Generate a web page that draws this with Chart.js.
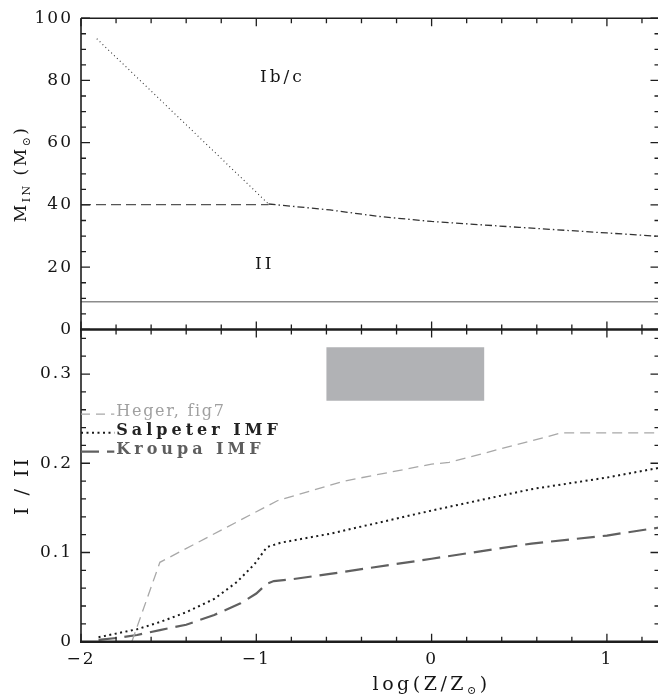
<!DOCTYPE html>
<html><head><meta charset="utf-8">
<script src="https://cdn.jsdelivr.net/npm/chart.js@4.4.0/dist/chart.umd.min.js"></script>
<style>
html,body{margin:0;padding:0;background:#fff;overflow:hidden;}
#wrap{position:absolute;left:0;top:0;width:660px;height:695px;}
</style></head><body>
<div id="wrap"><canvas id="c"></canvas></div>
<script>
// ---------------- data ----------------
const xTickValues = [-2, -1, 0, 1];
const yTopTickValues = [0, 20, 40, 60, 80, 100];
const yBotTickValues = [0, 0.1, 0.2, 0.3];

// top panel: M_IN vs log(Z/Zsun)
const dottedTopX = [-1.91, -0.93];
const dottedTopY = [93.4, 40.3];
const dashedTopX = [-2.0, -0.93];
const dashedTopY = [40.1, 40.1];
const dashDotTopX = [-0.93, -0.58, -0.3, 0.0, 0.5, 1.0, 1.3];
const dashDotTopY = [40.3, 38.4, 36.3, 34.7, 32.8, 31.0, 29.9];
const solidTopX = [-2.0, 1.3];
const solidTopY = [8.9, 8.9];

// bottom panel: I / II ratio
const hegerX = [-1.71, -1.55, -0.88, -0.5, 0.0, 0.1, 0.74, 1.3];
const hegerY = [0.0, 0.089, 0.158, 0.18, 0.199, 0.201, 0.234, 0.234];
const salpeterX = [-1.9, -1.68, -1.55, -1.4, -1.24, -1.11, -1.01, -0.94, -0.86, -0.58, 0.0, 0.57, 1.0, 1.3];
const salpeterY = [0.005, 0.014, 0.022, 0.033, 0.048, 0.067, 0.087, 0.106, 0.111, 0.121, 0.147, 0.171, 0.184, 0.195];
const kroupaX = [-1.9, -1.78, -1.68, -1.55, -1.4, -1.24, -1.09, -1.0, -0.94, -0.9, -0.81, -0.58, 0.0, 0.57, 1.0, 1.3];
const kroupaY = [0.002, 0.0045, 0.0075, 0.013, 0.019, 0.03, 0.043, 0.054, 0.065, 0.068, 0.0696, 0.076, 0.093, 0.11, 0.119, 0.128];
const boxX = [-0.6, -0.6, 0.3, 0.3];
const boxY = [0.27, 0.33, 0.33, 0.27];

const legendLabels = ['Heger, fig7', 'Salpeter IMF', 'Kroupa IMF'];
const legendY = [0.254, 0.233, 0.212];

// ---------------- helpers ----------------
const FONT = '"DejaVu Serif", "Liberation Serif", serif';
const pts = (xs, ys) => xs.map((x, i) => ({x: x, y: ys[i]}));

function drawRich(ctx, parts, cx, cy, angle, spacing) {
  ctx.save();
  ctx.translate(cx, cy);
  ctx.rotate(angle);
  ctx.letterSpacing = spacing + 'px';
  ctx.textBaseline = 'alphabetic';
  ctx.textAlign = 'left';
  let total = 0;
  parts.forEach(p => {
    ctx.font = (p.bold ? 'bold ' : '') + p.size + 'px ' + FONT;
    p.w = ctx.measureText(p.t).width;
    total += p.w;
  });
  let x = -total / 2;
  parts.forEach(p => {
    ctx.font = (p.bold ? 'bold ' : '') + p.size + 'px ' + FONT;
    ctx.fillStyle = p.color || '#151515';
    ctx.fillText(p.t, x, p.dy || 0);
    x += p.w;
  });
  ctx.restore();
}

const framePlugin = {
  id: 'frame',
  beforeDraw(chart) {
    chart.ctx.letterSpacing = '2px';
  },
  afterDraw(chart) {
    const ctx = chart.ctx;
    const sx = chart.scales.x, yT = chart.scales.yTop, yB = chart.scales.yBot;
    const L = chart.chartArea.left, R = chart.chartArea.right;
    const T = yT.top, M = yT.bottom, B = yB.bottom;
    ctx.save();
    ctx.letterSpacing = '0px';
    ctx.strokeStyle = '#1e1e1e';
    ctx.lineCap = 'butt';
    // frame
    ctx.lineWidth = 1.6;
    ctx.beginPath();
    ctx.moveTo(L, T); ctx.lineTo(R, T);
    ctx.moveTo(L, T); ctx.lineTo(L, B);
    ctx.moveTo(R, T); ctx.lineTo(R, B);
    ctx.stroke();
    ctx.lineWidth = 2.6;
    ctx.beginPath();
    ctx.moveTo(L - 1, M); ctx.lineTo(R, M);
    ctx.moveTo(L - 1, B); ctx.lineTo(R, B);
    ctx.stroke();
    // x ticks
    ctx.lineWidth = 1.3;
    ctx.beginPath();
    for (let i = 0; i <= 16; i++) {
      const v = -2 + 0.2 * i;
      const major = Math.abs(v - Math.round(v)) < 1e-6;
      const len = major ? 8 : 5;
      const px = sx.getPixelForValue(v);
      ctx.moveTo(px, T); ctx.lineTo(px, T + len);
      ctx.moveTo(px, M - len); ctx.lineTo(px, M + len);
      ctx.moveTo(px, B); ctx.lineTo(px, B - len);
    }
    // top y ticks
    for (let v = 0; v <= 100; v += 5) {
      const major = v % 20 === 0;
      const len = major ? 9 : 5;
      const py = yT.getPixelForValue(v);
      ctx.moveTo(L, py); ctx.lineTo(L + len, py);
      ctx.moveTo(R, py); ctx.lineTo(R - len, py);
    }
    // bottom y ticks
    for (let i = 0; i <= 17; i++) {
      const v = 0.02 * i;
      const major = i % 5 === 0;
      const len = major ? 9 : 5;
      const py = yB.getPixelForValue(v);
      ctx.moveTo(L, py); ctx.lineTo(L + len, py);
      ctx.moveTo(R, py); ctx.lineTo(R - len, py);
    }
    ctx.stroke();

    // region labels
    ctx.fillStyle = '#151515';
    ctx.textAlign = 'center';
    ctx.textBaseline = 'middle';
    ctx.letterSpacing = '3px';
    ctx.font = '17px ' + FONT;
    ctx.fillText('Ib/c', sx.getPixelForValue(-0.86) + 1.5, yT.getPixelForValue(81));
    ctx.fillText('II', sx.getPixelForValue(-0.96) + 1.5, yT.getPixelForValue(21));

    // legend
    const lx0 = sx.getPixelForValue(-2), lx1 = sx.getPixelForValue(-1.81);
    const styles = [
      {color: '#a8a8a8', dash: [9, 6], w: 1.3, bold: false, tcolor: '#a0a0a0', sp: '1.7px'},
      {color: '#1a1a1a', dash: [2, 3.5], w: 2, bold: true, tcolor: '#222', sp: '4px'},
      {color: '#606060', dash: [18, 8], w: 2.2, bold: true, tcolor: '#5e5e5e', sp: '4px'}
    ];
    legendLabels.forEach((lab, i) => {
      const st = styles[i];
      const py = yB.getPixelForValue(legendY[i]);
      ctx.save();
      ctx.strokeStyle = st.color; ctx.lineWidth = st.w; ctx.setLineDash(st.dash);
      ctx.beginPath(); ctx.moveTo(lx0, py - 1); ctx.lineTo(lx1, py - 1); ctx.stroke();
      ctx.restore();
      ctx.textAlign = 'left';
      ctx.textBaseline = 'alphabetic';
      ctx.fillStyle = st.tcolor;
      ctx.font = (st.bold ? 'bold ' : '') + '16px ' + FONT;
      ctx.letterSpacing = st.sp;
      ctx.fillText(lab, lx1 + 2, py + 1);
    });
    ctx.restore();

    // axis titles
    drawRich(ctx, [
      {t: 'M', size: 17}, {t: 'IN', size: 11, dy: 4}, {t: ' (M', size: 17},
      {t: '\u2299', size: 11, dy: 4}, {t: ')', size: 17}
    ], 25.5, (T + M) / 2, -Math.PI / 2, 2.5);
    drawRich(ctx, [{t: 'I / II', size: 19}], 28, (M + B) / 2, -Math.PI / 2, 3);
    drawRich(ctx, [
      {t: 'log(Z/Z', size: 19}, {t: '\u2299', size: 11, dy: 4}, {t: ')', size: 19}
    ], sx.getPixelForValue(0), 690, 0, 3.5);
  }
};

const tickFont = {family: FONT, size: 17};
const lineDs = (label, data, axis, color, width, dash) => ({
  type: 'line', label: label, data: data, yAxisID: axis,
  borderColor: color, borderWidth: width, borderDash: dash,
  pointRadius: 0, tension: 0, fill: false, borderCapStyle: 'butt'
});

new Chart(document.getElementById('c'), {
  type: 'line',
  data: {
    datasets: [
      lineDs('dotted', pts(dottedTopX, dottedTopY), 'yTop', '#333', 1.1, [1, 3]),
      lineDs('dashed', pts(dashedTopX, dashedTopY), 'yTop', '#555', 1.3, [10, 5]),
      lineDs('dashdot', pts(dashDotTopX, dashDotTopY), 'yTop', '#333', 1.3, [7, 3, 1.5, 3]),
      lineDs('solid', pts(solidTopX, solidTopY), 'yTop', '#8c8c8c', 1.7, []),
      lineDs('Heger, fig7', pts(hegerX, hegerY), 'yBot', '#a8a8a8', 1.3, [10, 6]),
      lineDs('Salpeter IMF', pts(salpeterX, salpeterY), 'yBot', '#1a1a1a', 2, [2, 3.5]),
      lineDs('Kroupa IMF', pts(kroupaX, kroupaY), 'yBot', '#606060', 2.2, [18, 8]),
      {type: 'line', label: 'box', data: pts(boxX, boxY), yAxisID: 'yBot',
       borderWidth: 0, pointRadius: 0, tension: 0, fill: 'shape',
       backgroundColor: '#b1b2b5', borderColor: 'rgba(0,0,0,0)'}
    ]
  },
  options: {
    responsive: true,
    maintainAspectRatio: false,
    devicePixelRatio: 1,
    animation: false,
    layout: {padding: {top: 12.7, right: 0.5, left: 0, bottom: 0}},
    plugins: {legend: {display: false}, tooltip: {enabled: false}},
    scales: {
      x: {
        type: 'linear', min: -2, max: 1.3,
        grid: {display: false, drawTicks: false}, border: {display: false},
        ticks: {font: tickFont, color: '#151515', padding: 8, maxRotation: 0, autoSkip: false,
                callback: v => String(v).replace('-', '\u2212')},
        afterBuildTicks: s => { s.ticks = xTickValues.map(v => ({value: v})); },
        afterFit: s => { s.height = 53.3; }
      },
      yBot: {
        type: 'linear', position: 'left', stack: 'v', stackWeight: 315, min: 0, max: 0.35,
        grid: {display: false, drawTicks: false}, border: {display: false},
        ticks: {font: tickFont, color: '#151515', padding: 8, autoSkip: false,
                callback: v => (v === 0 ? '0' : v.toFixed(1))},
        afterBuildTicks: s => { s.ticks = yBotTickValues.map(v => ({value: v})); },
        afterFit: s => { s.width = 81; }
      },
      yTop: {
        type: 'linear', position: 'left', stack: 'v', stackWeight: 314, min: 0, max: 100,
        grid: {display: false, drawTicks: false}, border: {display: false},
        ticks: {font: tickFont, color: '#151515', padding: 8, autoSkip: false,
                callback: v => String(v)},
        afterBuildTicks: s => { s.ticks = yTopTickValues.map(v => ({value: v})); },
        afterFit: s => { s.width = 81; }
      }
    }
  },
  plugins: [framePlugin]
});
</script>
</body></html>
